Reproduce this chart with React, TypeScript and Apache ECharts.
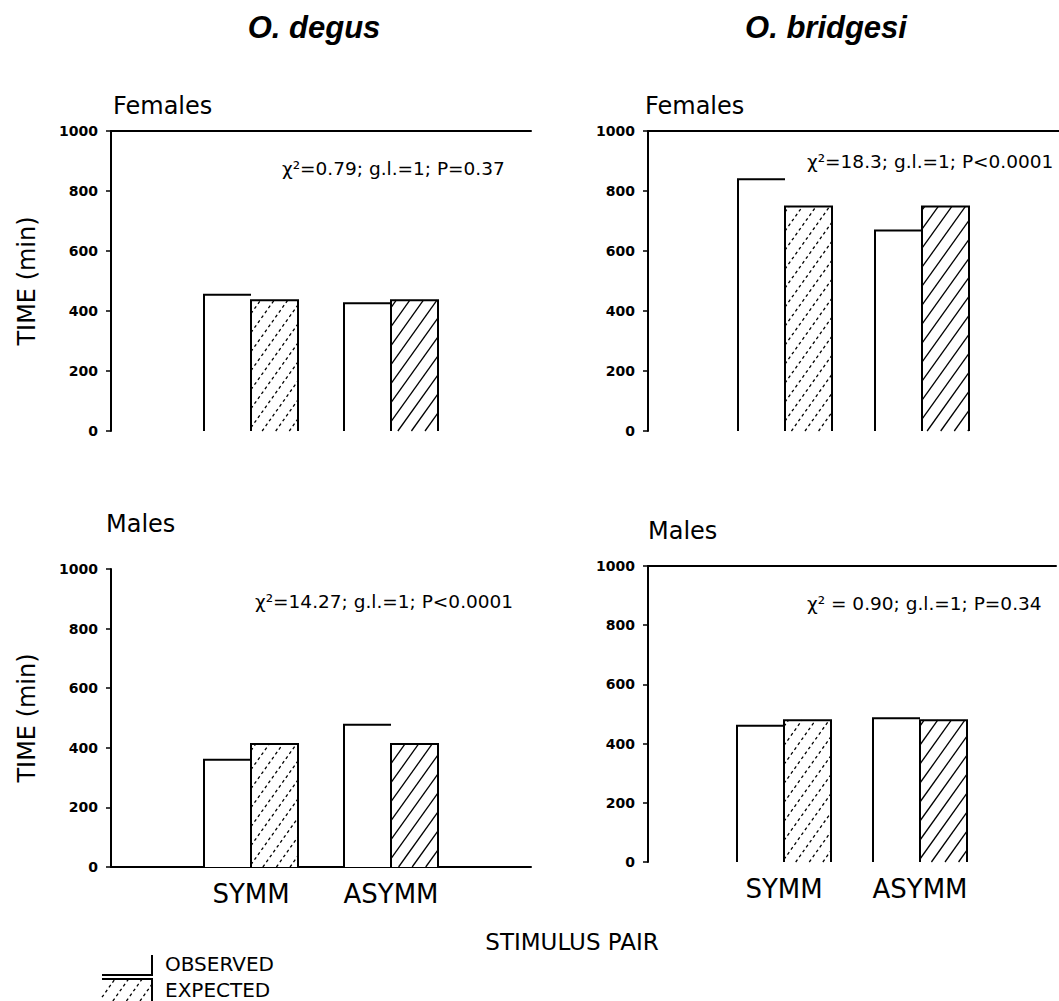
import React, { useEffect, useRef } from 'react';
import * as echarts from 'echarts';

const categories = ['SYMM', 'ASYMM'];
const yTicks = [0, 200, 400, 600, 800, 1000];
const degusFemalesObserved = [454, 426];
const degusFemalesExpected = [436, 436];
const bridgesiFemalesObserved = [839, 668];
const bridgesiFemalesExpected = [748, 748];
const degusMalesObserved = [360, 477];
const degusMalesExpected = [413, 413];
const bridgesiMalesObserved = [460, 486];
const bridgesiMalesExpected = [479, 479];
const speciesTitles = ['O. degus', 'O. bridgesi'];
const panelLabels = ['Females', 'Females', 'Males', 'Males'];
const statsTexts = [
  'χ²=0.79; g.l.=1; P=0.37',
  'χ²=18.3; g.l.=1; P<0.0001',
  'χ²=14.27; g.l.=1; P<0.0001',
  'χ² = 0.90; g.l.=1; P=0.34',
];
const legendLabels = ['OBSERVED', 'EXPECTED'];
const xAxisTitle = 'STIMULUS PAIR';
const yAxisTitle = 'TIME (min)';

const FONT = 'DejaVu Sans';
const BAR_W = 47;

const panels = [
  { obs: degusFemalesObserved, exp: degusFemalesExpected, grid: { left: 111, top: 131, width: 420, height: 300 }, topBorder: true, bottomLine: false, xLabels: false, yName: true, label: { x: 113, y: 109 }, stats: { x: 282, y: 170 } },
  { obs: bridgesiFemalesObserved, exp: bridgesiFemalesExpected, grid: { left: 648, top: 131, width: 417, height: 300 }, topBorder: true, bottomLine: false, xLabels: false, yName: false, label: { x: 645, y: 109 }, stats: { x: 807, y: 163 } },
  { obs: degusMalesObserved, exp: degusMalesExpected, grid: { left: 111, top: 569, width: 420, height: 298 }, topBorder: false, bottomLine: true, xLabels: true, yName: true, label: { x: 106, y: 527 }, stats: { x: 255, y: 603 } },
  { obs: bridgesiMalesObserved, exp: bridgesiMalesExpected, grid: { left: 648, top: 566, width: 417, height: 296 }, topBorder: true, bottomLine: false, xLabels: true, yName: false, label: { x: 648, y: 534 }, stats: { x: 807, y: 605 } },
];

function hatchLines(x0: number, y0: number, x1: number, y1: number, dashed: boolean) {
  const m = 1.4;
  const step = 19;
  const out: any[] = [];
  const cMin = m * x0 + y0;
  const cMax = m * x1 + y1;
  let c = Math.ceil(cMin / step) * step;
  for (; c < cMax; c += step) {
    const xa = Math.max(x0, (c - y1) / m);
    const xb = Math.min(x1, (c - y0) / m);
    if (xb - xa > 0.5) {
      out.push({
        type: 'line',
        shape: { x1: xa, y1: c - m * xa, x2: xb, y2: c - m * xb },
        style: { stroke: '#000', lineWidth: 1.3, lineDash: dashed ? [3, 3] : null },
      });
    }
  }
  return out;
}

function renderObserved(params: any, api: any) {
  const x = api.value(0);
  const v = api.value(1);
  const top = api.coord([x, v]);
  const base = api.coord([x, 0]);
  const xr = top[0];
  const xl = top[0] - BAR_W;
  return {
    type: 'group',
    children: [
      { type: 'rect', shape: { x: xl, y: top[1], width: BAR_W, height: base[1] - top[1] }, style: { fill: '#fff' } },
      { type: 'polyline', shape: { points: [[xl, base[1]], [xl, top[1]], [xr, top[1]]] }, style: { stroke: '#000', lineWidth: 2, fill: null } },
    ],
  };
}

function renderExpected(params: any, api: any) {
  const x = api.value(0);
  const v = api.value(1);
  const top = api.coord([x, v]);
  const base = api.coord([x, 0]);
  const xl = top[0];
  const xr = top[0] + BAR_W;
  return {
    type: 'group',
    children: [
      { type: 'rect', shape: { x: xl, y: top[1], width: BAR_W, height: base[1] - top[1] }, style: { fill: '#fff' } },
      ...hatchLines(xl, top[1], xr, base[1], params.dataIndex === 0),
      { type: 'polyline', shape: { points: [[xl, base[1]], [xl, top[1]], [xr, top[1]], [xr, base[1]]] }, style: { stroke: '#000', lineWidth: 2, fill: null } },
    ],
  };
}

export default function App() {
  const ref = useRef<HTMLDivElement>(null);
  useEffect(() => {
    if (!ref.current) return;
    const chart = echarts.init(ref.current, null, { renderer: 'svg' });
    const grids: any[] = [];
    const xAxes: any[] = [];
    const yAxes: any[] = [];
    const series: any[] = [];
    const graphics: any[] = [];
    const yMin = yTicks[0];
    const yMax = yTicks[yTicks.length - 1];
    const yInt = yTicks[1] - yTicks[0];

    panels.forEach((p, i) => {
      grids.push({ ...p.grid });
      xAxes.push({
        gridIndex: i,
        type: 'value',
        min: 0,
        max: 3,
        interval: 1,
        position: 'bottom',
        axisLine: { show: p.bottomLine, onZero: false, lineStyle: { color: '#000', width: 2 } },
        axisTick: { show: false },
        splitLine: { show: false },
        axisLabel: {
          show: p.xLabels,
          margin: 14,
          color: '#000',
          fontSize: 26,
          fontFamily: FONT,
          formatter: (val: number) => categories[val - 1] ?? '',
        },
      });
      yAxes.push({
        gridIndex: i,
        type: 'value',
        min: yMin,
        max: yMax,
        interval: yInt,
        axisLine: { show: true, lineStyle: { color: '#000', width: 2 } },
        axisTick: { show: true, length: 5, lineStyle: { color: '#000', width: 1.5 } },
        splitLine: { show: false },
        axisLabel: {
          color: '#000', fontSize: 14, fontWeight: 'bold', fontFamily: FONT, margin: 13,
          formatter: (val: number) => String(val),
        },
        name: p.yName ? yAxisTitle : '',
        nameLocation: 'middle',
        nameGap: 72,
        nameRotate: 90,
        nameTextStyle: { color: '#000', fontSize: 24, fontFamily: FONT },
      });
    });
    // top border axes
    panels.forEach((p, i) => {
      if (!p.topBorder) return;
      xAxes.push({
        gridIndex: i,
        type: 'value',
        min: 0,
        max: 3,
        position: 'top',
        axisLine: { show: true, onZero: false, lineStyle: { color: '#000', width: 2 } },
        axisTick: { show: false },
        axisLabel: { show: false },
        splitLine: { show: false },
      });
    });

    panels.forEach((p, i) => {
      series.push({
        type: 'custom',
        name: legendLabels[0],
        xAxisIndex: i,
        yAxisIndex: i,
        clip: false,
        renderItem: renderObserved,
        encode: { x: 0, y: 1 },
        data: p.obs.map((v, k) => [k + 1, v]),
      });
      series.push({
        type: 'custom',
        name: legendLabels[1],
        xAxisIndex: i,
        yAxisIndex: i,
        clip: false,
        renderItem: renderExpected,
        encode: { x: 0, y: 1 },
        data: p.exp.map((v, k) => [k + 1, v]),
      });
      graphics.push({
        type: 'text',
        left: p.label.x,
        top: p.label.y - 15,
        style: { text: panelLabels[i], fontSize: 24, fontFamily: FONT, fill: '#000' },
      });
      graphics.push({
        type: 'text',
        left: p.stats.x,
        top: p.stats.y - 11,
        style: { text: statsTexts[i], fontSize: 18.5, fontFamily: FONT, fill: '#000' },
      });
    });

    // species titles
    graphics.push({
      type: 'text', x: 314, y: 27,
      style: { text: speciesTitles[0], fontSize: 31, fontStyle: 'italic', fontWeight: 'bold', fontFamily: 'Liberation Sans', fill: '#000', align: 'center', verticalAlign: 'middle' },
    });
    graphics.push({
      type: 'text', x: 826, y: 27,
      style: { text: speciesTitles[1], fontSize: 31, fontStyle: 'italic', fontWeight: 'bold', fontFamily: 'Liberation Sans', fill: '#000', align: 'center', verticalAlign: 'middle' },
    });
    // x axis title
    graphics.push({
      type: 'text', x: 572, y: 942,
      style: { text: xAxisTitle, fontSize: 23, fontFamily: FONT, fill: '#000', align: 'center', verticalAlign: 'middle' },
    });
    // legend
    const lx0 = 102, lx1 = 152;
    graphics.push({
      type: 'polyline',
      shape: { points: [[lx1, 955], [lx1, 975], [lx0, 975]] },
      style: { stroke: '#000', lineWidth: 2, fill: null },
    });
    graphics.push({
      type: 'group',
      children: [
        ...hatchLines(lx0, 979, lx1, 1001, true),
        { type: 'polyline', shape: { points: [[lx0, 979], [lx1, 979], [lx1, 1001]] }, style: { stroke: '#000', lineWidth: 2, fill: null } },
      ],
    });
    graphics.push({
      type: 'text', x: 165, y: 964,
      style: { text: legendLabels[0], fontSize: 20, fontFamily: FONT, fill: '#000', verticalAlign: 'middle' },
    });
    graphics.push({
      type: 'text', x: 165, y: 990,
      style: { text: legendLabels[1], fontSize: 20, fontFamily: FONT, fill: '#000', verticalAlign: 'middle' },
    });

    chart.setOption({
      animation: false,
      backgroundColor: '#fff',
      textStyle: { fontFamily: FONT },
      grid: grids,
      xAxis: xAxes,
      yAxis: yAxes,
      series,
      graphic: graphics,
    });
    return () => chart.dispose();
  }, []);
  return <div ref={ref} style={{ position: 'fixed', left: 0, top: 0, width: 1059, height: 1001 }} />;
}
